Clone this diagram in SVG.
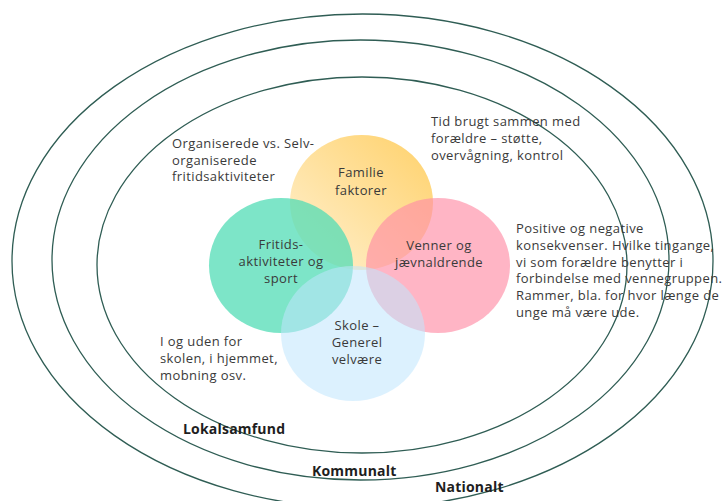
<svg xmlns="http://www.w3.org/2000/svg" width="726" height="501" viewBox="0 0 726 501">
<defs>
<linearGradient id="yg" x1="1" y1="0" x2="0" y2="1">
<stop offset="0" stop-color="#FFD16A"/>
<stop offset="1" stop-color="#FFF1D2"/>
</linearGradient>
<style>
.ring{fill:none;stroke:#2f5d54;stroke-width:1.3}
.t{font-family:"Open Sans","Liberation Sans",sans-serif;font-size:13px;letter-spacing:0.4px;fill:#3a3a3a}
.c{text-anchor:middle}
.b{font-family:"Open Sans","Liberation Sans",sans-serif;font-size:14px;letter-spacing:0.2px;font-weight:bold;fill:#1e1e1e}
</style>
</defs>
<rect width="726" height="501" fill="#ffffff"/>
<g id="rings">
<ellipse class="ring" cx="362.5" cy="261" rx="350.5" ry="247"/>
<ellipse class="ring" cx="360.5" cy="260" rx="308.5" ry="220"/>
<ellipse class="ring" cx="362" cy="265" rx="265" ry="188"/>
</g>
<g id="familie">
<ellipse cx="361.5" cy="202.5" rx="71.5" ry="67.5" fill="url(#yg)"/>
<text class="t c" x="361" y="177">Familie</text>
<text class="t c" x="361" y="195">faktorer</text>
</g>
<g id="fritid">
<ellipse cx="281" cy="265.5" rx="72" ry="67.5" fill="rgb(82,220,182)" fill-opacity="0.75"/>
<text class="t c" x="281" y="249">Fritids-</text>
<text class="t c" x="281" y="266">aktiviteter og</text>
<text class="t c" x="281" y="283">sport</text>
</g>
<g id="venner">
<ellipse cx="438" cy="265.5" rx="72" ry="67.5" fill="rgb(255,141,166)" fill-opacity="0.65"/>
<text class="t c" x="439" y="250">Venner og</text>
<text class="t c" x="439" y="267">jævnaldrende</text>
</g>
<g id="skole">
<ellipse cx="353" cy="333.5" rx="72" ry="67.5" fill="rgb(192,229,254)" fill-opacity="0.55"/>
<text class="t c" x="357" y="330">Skole –</text>
<text class="t c" x="357" y="347">Generel</text>
<text class="t c" x="357" y="364">velvære</text>
</g>
<g id="note-organiserede">
<text class="t" x="172" y="148">Organiserede vs. Selv-</text>
<text class="t" x="172" y="164.5">organiserede</text>
<text class="t" x="172" y="181">fritidsaktiviteter</text>
</g>
<g id="note-tid">
<text class="t" x="431" y="126">Tid brugt sammen med</text>
<text class="t" x="431" y="143">forældre – støtte,</text>
<text class="t" x="431" y="159.5">overvågning, kontrol</text>
</g>
<g id="note-positive">
<text class="t" x="516" y="233">Positive og negative</text>
<text class="t" x="516" y="249.8">konsekvenser. Hvilke tingange,</text>
<text class="t" x="516" y="266.6">vi som forældre benytter i</text>
<text class="t" x="516" y="283.4">forbindelse med vennegruppen.</text>
<text class="t" x="516" y="300.2">Rammer, bla. for hvor længe de</text>
<text class="t" x="516" y="317">unge må være ude.</text>
</g>
<g id="note-skole">
<text class="t" x="160" y="346">I og uden for</text>
<text class="t" x="160" y="363">skolen, i hjemmet,</text>
<text class="t" x="160" y="380">mobning osv.</text>
</g>
<g id="labels">
<text class="b" x="183" y="434">Lokalsamfund</text>
<text class="b" x="312" y="476">Kommunalt</text>
<text class="b" x="435" y="492">Nationalt</text>
</g>
<g id="connectors"/>
</svg>
